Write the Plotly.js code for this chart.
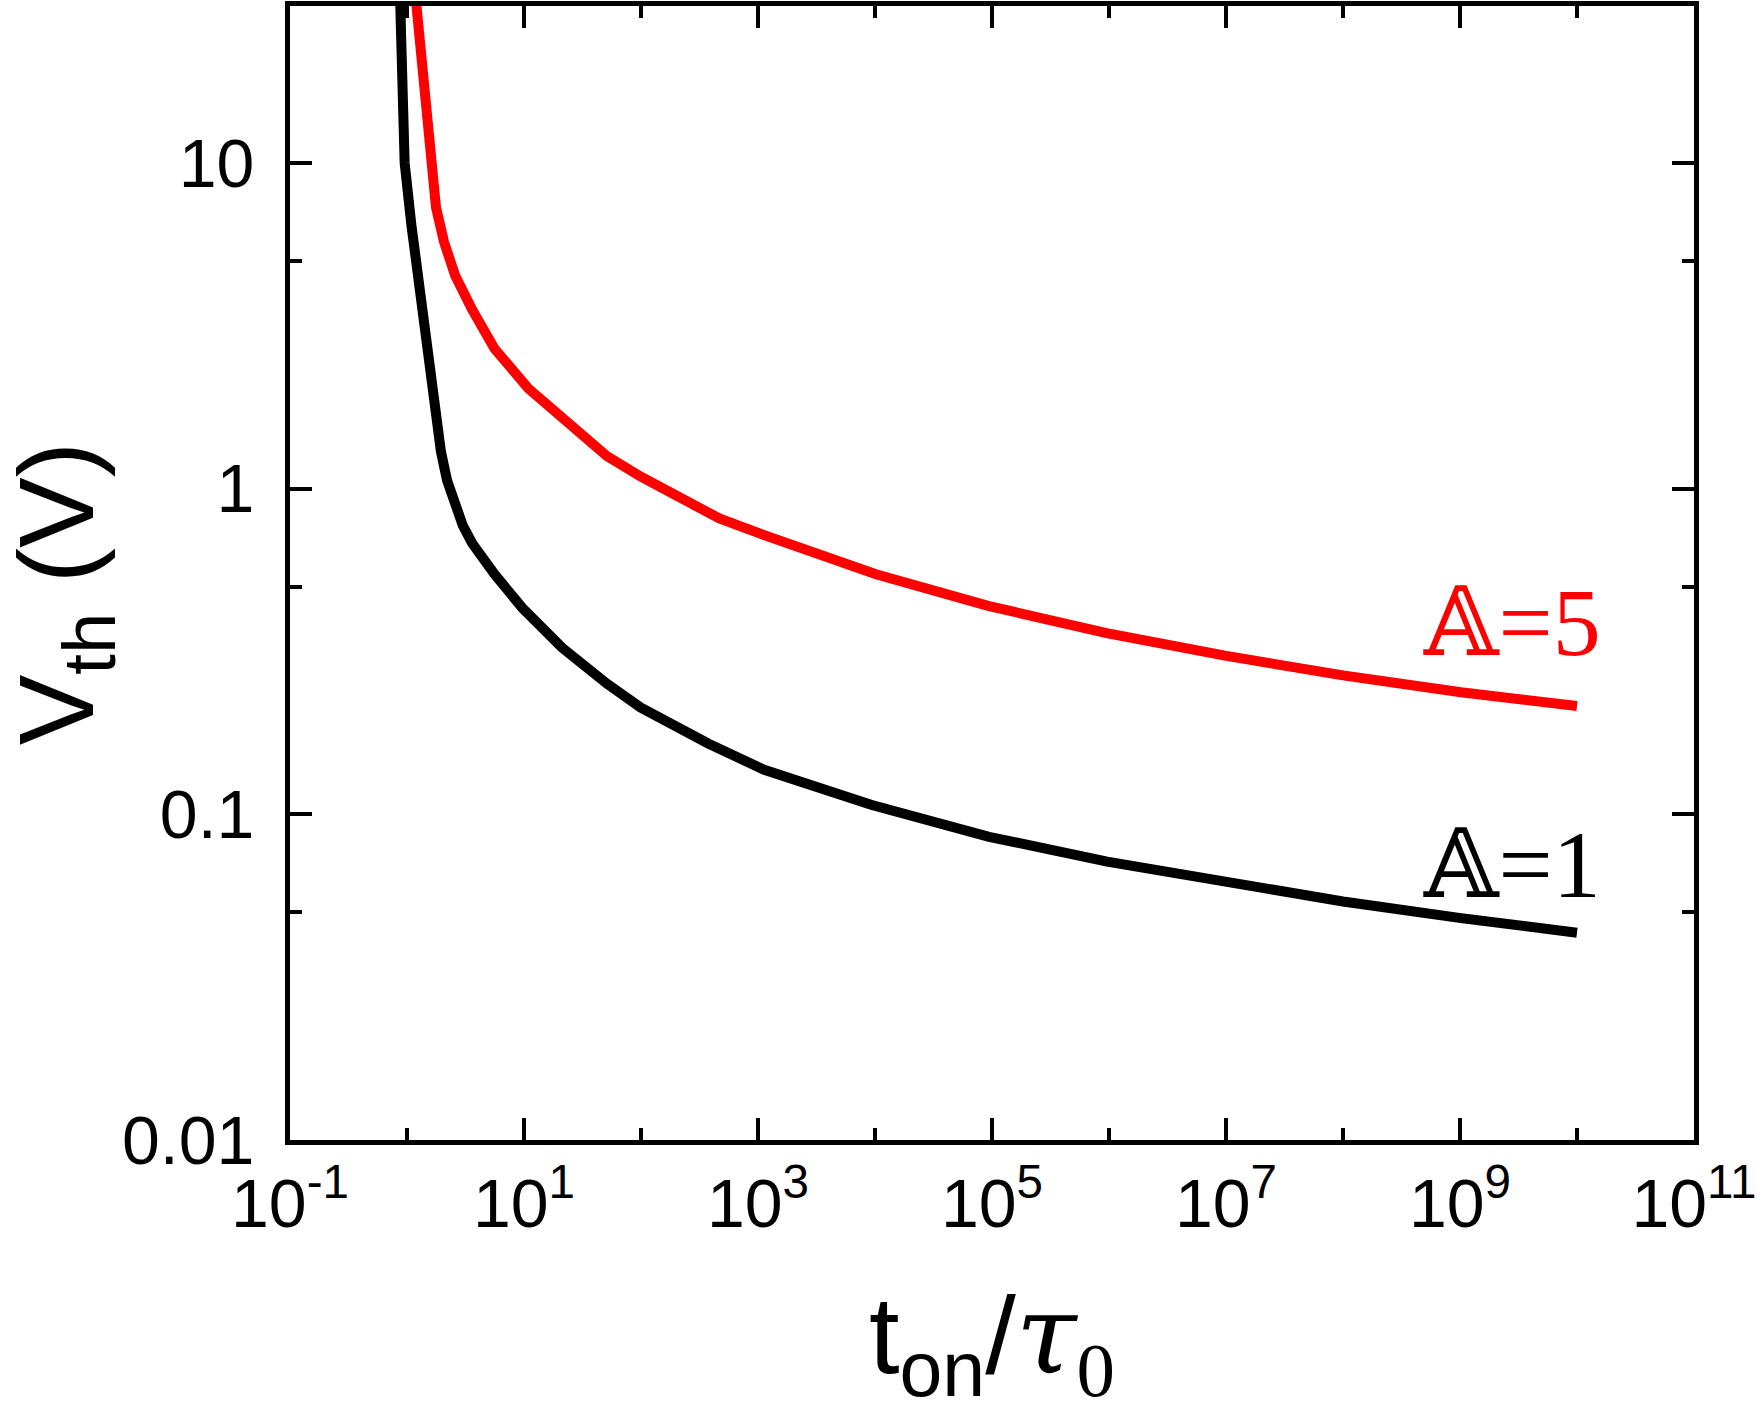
<!DOCTYPE html>
<html>
<head>
<meta charset="utf-8">
<script src="https://cdn.plot.ly/plotly-3.0.1.min.js"></script>
<style>
  html, body { margin: 0; padding: 0; background: #fff; }
  #plot { width: 1762px; height: 1416px; }
</style>
</head>
<body>
<div id="plot"></div>
<script>
// t_on / tau_0 and threshold voltage
let tA1 = [0.873, 0.914, 0.955, 1.09, 1.30, 1.55, 1.75, 1.95, 2.2, 2.55, 3.0, 3.6, 4.4, 5.6, 9.7,
    21.1, 51, 99, 375, 1130, 9250, 94400, 964000, 9.8e6, 1e8, 1.02e9, 1e10];
let vA1 = [31.8, 16.8, 10, 6.45, 4.0, 2.29, 1.65, 1.3, 1.06, 0.89, 0.77, 0.68, 0.61, 0.546, 0.43,
    0.325, 0.252, 0.213, 0.165, 0.137, 0.107, 0.0853, 0.0716, 0.062, 0.054, 0.048, 0.0433];

let tA5 = [1.19, 1.36, 1.55, 1.77, 2.07, 2.58, 3.6, 5.6, 10.9, 21.1, 51, 99, 468, 1130,
    10200, 94400, 955000, 9.8e6, 1e8, 1.02e9, 1e10];
let vA5 = [31.8, 19.7, 11.3, 7.3, 5.73, 4.51, 3.55, 2.69, 2.03, 1.66, 1.26, 1.09, 0.81, 0.72,
    0.546, 0.436, 0.36, 0.307, 0.267, 0.237, 0.215];

// axis ticks
let xTickVals = [0.1, 10, 1e3, 1e5, 1e7, 1e9, 1e11];
let xTickText = ['10<sup>-1</sup>', '10<sup>1</sup>', '10<sup>3</sup>', '10<sup>5</sup>',
    '10<sup>7</sup>', '10<sup>9</sup>', '10<sup>11</sup>'];
let xMinorVals = [1, 100, 1e4, 1e6, 1e8, 1e10];
let yTickVals = [0.01, 0.1, 1, 10];
let yTickText = ['0.01', '0.1', '1', '10'];
let yMinorVals = [0.05, 0.5, 5];

let labelText = ['𝔸=1', '𝔸=5'];
let labelPos = [[10.22, 0.07], [10.22, 0.387]];
let lineColors = ['#000000', '#ff0000'];

let sans = 'Liberation Sans, Arial, sans-serif';
let serif = 'Liberation Serif, DejaVu Serif, serif';

let traces = [
    {x: tA1, y: vA1, mode: 'lines', name: labelText[0],
        line: {color: lineColors[0], width: 10}},
    {x: tA5, y: vA5, mode: 'lines', name: labelText[1],
        line: {color: lineColors[1], width: 10}}
];

let axisCommon = {
    showline: true, linecolor: '#000', linewidth: 5, mirror: 'ticks',
    ticks: 'inside', ticklen: 22, tickwidth: 4, tickcolor: '#000',
    showgrid: false, zeroline: false, tickmode: 'array',
    tickfont: {family: sans, size: 68, color: '#000'}
};

let annotations = labelText.map((t, i) => ({
    x: labelPos[i][0], y: Math.log10(labelPos[i][1]), xref: 'x', yref: 'y',
    text: t, showarrow: false, xanchor: 'right', yanchor: 'middle',
    font: {family: serif, size: 96, color: lineColors[i]}
}));

// y axis title, placed by hand so it sits where the original does
annotations.push({
    x: -0.161, y: 0.482, xref: 'paper', yref: 'paper',
    text: 'V<sub>th</sub> (V)', textangle: -90, showarrow: false,
    xanchor: 'center', yanchor: 'middle',
    font: {family: sans, size: 106, color: '#000'}
});

let layout = {
    width: 1762, height: 1416,
    margin: {l: 290, r: 68, t: 6, b: 276},
    paper_bgcolor: '#fff', plot_bgcolor: '#fff',
    showlegend: false,
    xaxis: Object.assign({}, axisCommon, {
        type: 'log', range: [-1, 11],
        tickvals: xTickVals, ticktext: xTickText,
        ticklabelstandoff: 0,
        minor: {tickmode: 'array', tickvals: xMinorVals, ticks: 'inside', ticklen: 12, tickwidth: 4, tickcolor: '#000'},
        title: {
            text: 't<sub>on</sub>/<span style="font-family:DejaVu Serif;font-style:italic">τ</span><sub><span style="font-family:Liberation Serif">0</span></sub>',
            font: {family: sans, size: 110, color: '#000'}, standoff: 58
        }
    }),
    yaxis: Object.assign({}, axisCommon, {
        type: 'log', range: [-2, 1.482],
        tickvals: yTickVals, ticktext: yTickText,
        ticklabelstandoff: 17,
        minor: {tickmode: 'array', tickvals: yMinorVals, ticks: 'inside', ticklen: 12, tickwidth: 4, tickcolor: '#000'}
    }),
    annotations: annotations
};

Plotly.newPlot('plot', traces, layout, {displayModeBar: false});
</script>
</body>
</html>
